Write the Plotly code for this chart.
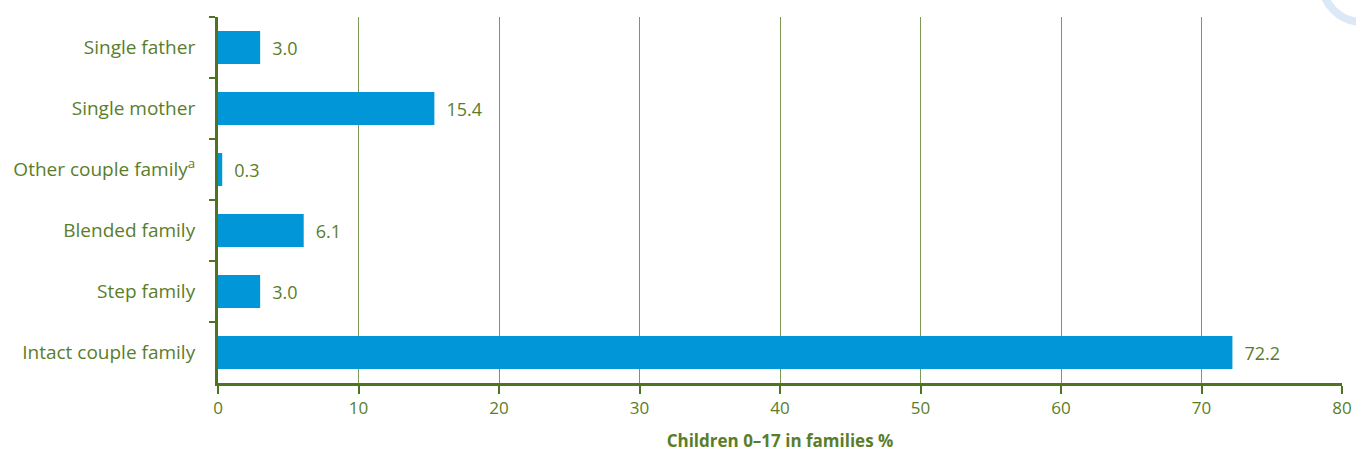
import plotly.graph_objects as go

categories = ["Single father", "Single mother", "Other couple family<sup>a</sup>",
              "Blended family", "Step family", "Intact couple family"]
values = [3.0, 15.4, 0.3, 6.1, 3.0, 72.2]
value_labels = ["3.0", "15.4", "0.3", "6.1", "3.0", "72.2"]
x_ticks = [0, 10, 20, 30, 40, 50, 60, 70, 80]
grid_ticks = [10, 20, 30, 40, 50, 60, 70]

GREEN = "#5a7d2a"
AXIS_GREEN = "#4f7420"
GRID_GREEN = "#7d9a55"
BLUE = "#0096d8"
FONT = "Open Sans"

fig = go.Figure()
fig.add_trace(go.Bar(
    x=values, y=categories, orientation="h",
    marker=dict(color=BLUE, line=dict(width=0)),
    width=0.54,
    text=["\u2002" + t for t in value_labels], textposition="outside",
    textfont=dict(color=GREEN, size=18, family=FONT),
    cliponaxis=False, hoverinfo="x+y",
))
# invisible trace for grid axis
fig.add_trace(go.Scatter(x=[0, 80], y=[categories[0], categories[0]], xaxis="x2",
                         mode="markers", marker=dict(opacity=0), hoverinfo="skip",
                         showlegend=False))

fig.update_layout(
    width=1356, height=452,
    margin=dict(l=218, r=14, t=17, b=69, autoexpand=False),
    paper_bgcolor="white", plot_bgcolor="white",
    showlegend=False,
    font=dict(family=FONT, color=GREEN, size=18),
    xaxis=dict(
        range=[0, 80], tickvals=x_ticks, ticktext=[str(v) for v in x_ticks],
        showgrid=False, zeroline=False, automargin=False,
        showline=True, linecolor=AXIS_GREEN, linewidth=3,
        ticks="outside", ticklen=8, tickwidth=2, tickcolor=AXIS_GREEN,
        tickfont=dict(size=17, color=GREEN, family=FONT),
        title=dict(text="<b>Children 0–17 in families %</b>",
                   font=dict(size=17, color=GREEN, family=FONT), standoff=22),
    ),
    xaxis2=dict(
        range=[0, 80], overlaying="x", tickvals=grid_ticks, showticklabels=False,
        showgrid=True, gridcolor=GRID_GREEN, gridwidth=1, zeroline=False,
        showline=False, ticks="", automargin=False,
    ),
    yaxis=dict(
        autorange="reversed", automargin=False,
        showgrid=False, zeroline=False,
        showline=True, linecolor=AXIS_GREEN, linewidth=3,
        ticks="outside", tickson="boundaries", ticklen=6, tickwidth=2,
        tickcolor=AXIS_GREEN,
        tickfont=dict(size=19, color=GREEN, family=FONT),
        ticklabelstandoff=16,
    ),
    shapes=[dict(type="circle", xref="paper", yref="paper", layer="below",
                 x0=1.0178 - 0.0356, x1=1.0178 + 0.0356,
                 y0=1.0956 - 0.109, y1=1.0956 + 0.109,
                 line=dict(color="#dbe8f7", width=8))],
)

fig.write_html("out.html")
